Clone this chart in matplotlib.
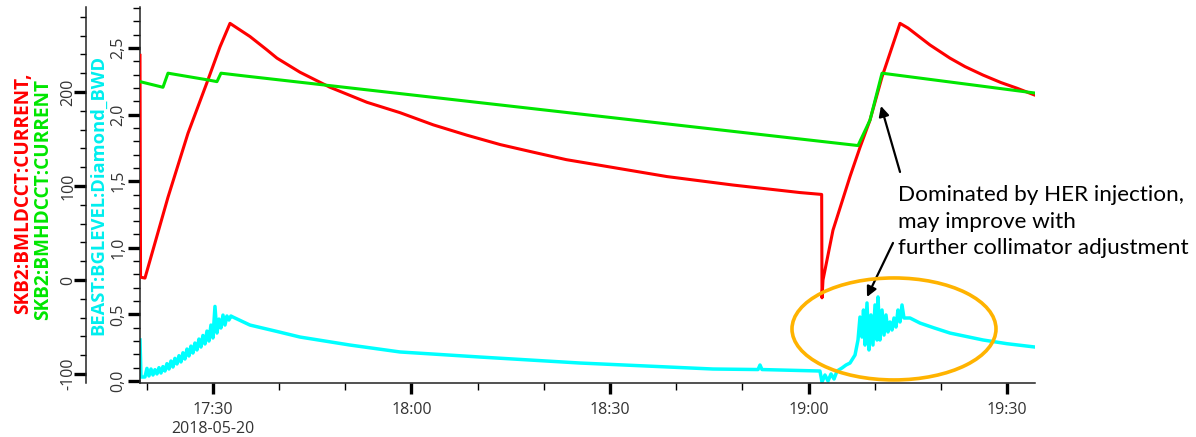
import datetime as dt
import numpy as np
import matplotlib
matplotlib.use("Agg")
import matplotlib.pyplot as plt
import matplotlib.dates as mdates
from matplotlib.patches import Ellipse
from matplotlib.ticker import MultipleLocator, FuncFormatter, FixedLocator, FixedFormatter

# minutes after 17:00 on 2018-05-20
red_t = [18.97, 19.05, 19.72, 23.20, 26.22, 29.09, 31.06, 32.57, 35.59, 38.11,
         39.67, 43.15, 47.68, 53.27, 58.26, 63.30, 68.39, 73.43, 78.36, 83.40,
         88.49, 98.61, 108.59, 118.71, 121.99, 122.04, 122.19, 123.70, 126.27,
         127.78, 129.29, 131.11, 133.83, 135.04, 138.36, 141.38, 143.65, 146.37,
         149.09, 151.51, 154.08]
red_v = [239, 3, 2, 88, 156, 210, 248, 273, 259, 245,
         236, 221, 205, 189, 178, 165, 154, 144, 136, 128,
         122, 110, 101, 93, 91, -19, 0, 53, 110,
         141, 170, 216, 273, 268, 250, 236, 227, 218,
         210, 204, 197]

green_t = [18.97, 22.44, 23.20, 29.09, 30.60, 31.21, 34.84, 127.48, 129.29, 131.11, 154.08]
green_v = [211, 205, 220, 213, 211, 220, 217, 143, 170, 220, 199]

cyan_t = [18.97, 19.12,
          19.72, 20.02, 20.32, 20.63, 20.93, 21.23, 21.53, 21.84, 22.14, 22.44,
          22.74, 23.04, 23.35, 23.65, 23.95, 24.25, 24.56, 24.86, 25.16, 25.46,
          25.76, 26.07, 26.37, 26.67, 26.97, 27.27, 27.58, 27.88, 28.18, 28.48,
          28.79, 29.09, 29.39, 29.69, 29.99, 30.30, 30.60, 30.90, 31.20, 31.51,
          31.81, 32.11, 32.41, 32.71, 33.02,
          35.59, 39.67, 43.15, 50.70, 58.26, 70.35, 85.46, 105.56, 112.37, 112.67,
          112.97, 121.73, 122.04, 122.49, 122.95, 123.40, 123.86, 124.31, 125.07,
          125.67, 126.27, 127.03,
          127.48, 127.78, 128.08, 128.31, 128.54, 128.84, 129.14, 129.44, 129.74,
          130.05, 130.35, 130.50, 130.80, 131.11, 131.41, 131.71, 132.01, 132.31,
          132.62, 132.92, 133.22, 133.52, 133.83, 134.13, 134.43,
          135.34, 136.85, 138.90, 141.38, 146.37, 150.00, 154.23]
cyan_v = [0.308, 0.030,
          0.030, 0.095, 0.038, 0.090, 0.045, 0.085, 0.053, 0.100, 0.060, 0.108,
          0.075, 0.130, 0.090, 0.150, 0.105, 0.170, 0.128, 0.190, 0.143, 0.212,
          0.165, 0.240, 0.188, 0.262, 0.210, 0.285, 0.233, 0.315, 0.255, 0.342,
          0.278, 0.375, 0.300, 0.420, 0.323, 0.560, 0.360, 0.465, 0.398, 0.495,
          0.420, 0.488, 0.458, 0.488, 0.480,
          0.420, 0.372, 0.330, 0.270, 0.218, 0.180, 0.135, 0.090, 0.086, 0.120,
          0.086, 0.075, -0.008, 0.045, 0.000, 0.053, 0.015, 0.075, 0.098,
          0.120, 0.135, 0.195,
          0.308, 0.480, 0.330, 0.533, 0.270, 0.586, 0.233, 0.496, 0.270,
          0.571, 0.308, 0.631, 0.308, 0.533, 0.345, 0.496, 0.368, 0.443,
          0.383, 0.473, 0.405, 0.533, 0.443, 0.571, 0.473,
          0.473, 0.435, 0.400, 0.360, 0.308, 0.280, 0.255]

major_times = [30, 60, 90, 120, 150]
major_labels = ['17:30\n2018-05-20', '18:00', '18:30', '19:00', '19:30']
minor_times = [20, 40, 50, 70, 80, 100, 110, 130, 140]

start = dt.datetime(2018, 5, 20, 17, 0)


def when(minutes):
    return [mdates.date2num(start + dt.timedelta(minutes=m)) for m in minutes]


RED = '#ff0000'
GREEN = '#00e600'
CYAN = '#00ffff'
TICK_TXT = '#333333'
W, H = 1196, 437

plt.rcParams['font.family'] = ['Open Sans', 'DejaVu Sans']
plt.rcParams['axes.unicode_minus'] = False

fig = plt.figure(figsize=(W / 100, H / 100), dpi=100, facecolor='white')
ax = fig.add_axes([140 / W, (H - 383) / H, (1035 - 140) / W, (383 - 7) / H])
ax2 = ax.twinx()

ax.plot(when(cyan_t), cyan_v, color=CYAN, lw=2.5)
ax2.plot(when(red_t), red_v, color=RED, lw=2.2)
ax2.plot(when(green_t), green_v, color=GREEN, lw=2.2)

ax.set_xlim(when([18.97, 154.23]))
ax.set_ylim(-0.015, 2.808)
ax2.set_ylim(-109.6, 290.4)

for s in ['top', 'right']:
    ax.spines[s].set_visible(False)
for s in ['top', 'right', 'bottom']:
    ax2.spines[s].set_visible(False)
ax2.yaxis.set_ticks_position('left')
ax2.spines['left'].set_position(('axes', -54 / 895))
for a in (ax, ax2):
    for sp in a.spines.values():
        sp.set_linewidth(1.1)
        sp.set_color('#222222')

ax.xaxis.set_major_locator(FixedLocator(when(major_times)))
ax.xaxis.set_major_formatter(FixedFormatter(major_labels))
ax.xaxis.set_minor_locator(FixedLocator(when(minor_times)))
ax.tick_params(axis='x', which='major', length=8, width=2.4, pad=6,
               labelsize=11.5, labelcolor=TICK_TXT)
ax.tick_params(axis='x', which='minor', length=5, width=1)

ax.yaxis.set_major_locator(MultipleLocator(0.5))
ax.yaxis.set_minor_locator(MultipleLocator(0.1))
ax.yaxis.set_major_formatter(FuncFormatter(lambda v, p: f'{v:.1f}'.replace('.', ',')))
ax.tick_params(axis='y', which='major', length=8.6, width=2.4, pad=1.3,
               labelsize=11.5, labelcolor=TICK_TXT)
ax.tick_params(axis='y', which='minor', length=5, width=1)

ax2.yaxis.set_major_locator(MultipleLocator(100))
ax2.yaxis.set_minor_locator(MultipleLocator(20))
ax2.tick_params(axis='y', which='major', length=8.6, width=2.4, pad=-1.5,
                labelsize=11.5, labelcolor=TICK_TXT)
ax2.tick_params(axis='y', which='minor', length=4.5, width=1)

plt.setp(ax.get_yticklabels() + ax2.get_yticklabels(), rotation=90,
         ha='right', va='center', rotation_mode='default')

# axis titles
fig.text(23 / W, 1 - 193 / H, 'SKB2:BMLDCCT:CURRENT,', color=RED, rotation=90,
         ha='center', va='center', fontsize=13.7, fontweight='bold')
fig.text(43 / W, 1 - 200 / H, 'SKB2:BMHDCCT:CURRENT', color=GREEN, rotation=90,
         ha='center', va='center', fontsize=13.7, fontweight='bold')
fig.text(98 / W, 1 - 195 / H, 'BEAST:BGLEVEL:Diamond_BWD', color='#00eeee', rotation=90,
         ha='center', va='center', fontsize=13.2, fontweight='bold')

# annotation
ell = Ellipse((when([132.92])[0], -52.1), width=30.83 / 1440, height=108.5,
              fill=False, edgecolor='#ffb300', lw=2.6, zorder=5)
ax2.add_patch(ell)
ax2.annotate('', xy=(when([130.95])[0], 185.1), xytext=(when([133.83])[0], 114.9),
             arrowprops=dict(arrowstyle='-|>', color='black', lw=1.6,
                             mutation_scale=15, shrinkA=0, shrinkB=0))
ax2.annotate('', xy=(when([128.84])[0], -18.1), xytext=(when([132.77])[0], 39.4),
             arrowprops=dict(arrowstyle='-|>', color='black', lw=1.6,
                             mutation_scale=15, shrinkA=0, shrinkB=0))
ax2.text(when([133.45])[0], 101.0,
         'Dominated by HER injection,\nmay improve with\nfurther collimator adjustment',
         ha='left', va='top', fontsize=16.2, family=['Lato', 'DejaVu Sans'],
         color='black', linespacing=1.42)

fig.savefig('out.png', dpi=100, facecolor='white')
